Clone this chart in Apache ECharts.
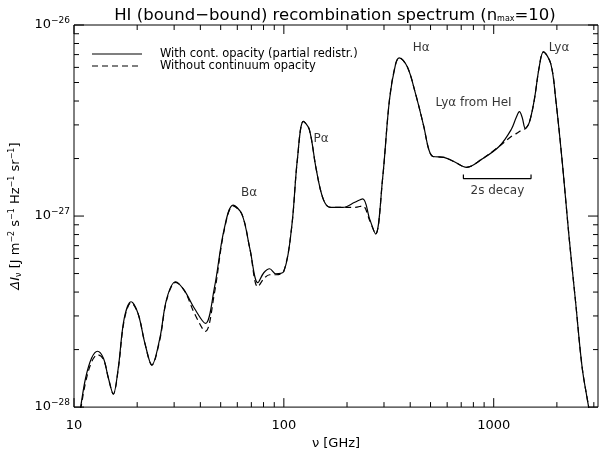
<!DOCTYPE html>
<html><head><meta charset="utf-8">
<script src="https://cdn.jsdelivr.net/npm/echarts@6/dist/echarts.min.js"></script>
<style>html,body{margin:0;padding:0;background:#fff}#c{width:606px;height:455px}</style>
</head><body><div id="c"></div>
<script>
// Frequency (GHz)
const freq = [10.53,10.75,11.36,12.12,12.94,13.81,14.58,15.39,16.25,17.35,18.72,20.19,21.79,23.50,25.64,27.67,30.51,33.65,37.51,42.27,46.59,51.94,57.28,63.17,68.90,75.15,80.23,85.60,91.38,99.7,108.7,116.0,123.9,132.2,142.6,153.9,166.1,191.2,217.8,237.6,256.4,273.7,295.3,318.6,340.1,354.8,387.4,422.7,464.5,490.5,513.8,579.1,645.4,743.3,875.0,1064,1212,1280,1326,1367,1415,1478,1561,1648,1725,1871,1976,2126,2283,2455,2641,2837,2918];
// With continuum opacity (partial redistribution), J m^-2 s^-1 Hz^-1 sr^-1
const withOpacity = [8.8e-29,1.0e-28,1.42e-28,1.80e-28,1.96e-28,1.80e-28,1.42e-28,1.17e-28,1.60e-28,2.91e-28,3.56e-28,3.09e-28,2.15e-28,1.66e-28,2.29e-28,3.70e-28,4.53e-28,4.06e-28,3.28e-28,2.74e-28,4.17e-28,8.55e-28,1.14e-27,1.02e-27,6.73e-28,4.48e-28,5.05e-28,5.30e-28,4.99e-28,5.11e-28,8.55e-28,1.98e-27,3.13e-27,2.84e-27,1.76e-27,1.23e-27,1.11e-27,1.11e-27,1.18e-27,1.23e-27,9.64e-28,8.05e-28,1.56e-27,4.06e-27,6.19e-27,6.73e-27,6.04e-27,4.43e-27,2.94e-27,2.23e-27,2.05e-27,2.03e-27,1.93e-27,1.80e-27,1.98e-27,2.32e-27,2.84e-27,3.28e-27,3.52e-27,3.28e-27,2.87e-27,3.09e-27,4.06e-27,6.04e-27,7.23e-27,6.26e-27,4.06e-27,1.87e-27,7.87e-28,3.56e-28,1.60e-28,9.9e-29,7.8e-29];
// Without continuum opacity
const withoutOpacity = [8.6e-29,0.97e-28,1.35e-28,1.72e-28,1.88e-28,1.78e-28,1.42e-28,1.17e-28,1.58e-28,2.85e-28,3.52e-28,3.09e-28,2.15e-28,1.66e-28,2.25e-28,3.65e-28,4.50e-28,4.06e-28,3.09e-28,2.49e-28,3.90e-28,8.40e-28,1.13e-27,1.02e-27,6.73e-28,4.26e-28,4.70e-28,4.93e-28,4.93e-28,5.11e-28,8.55e-28,1.98e-27,3.13e-27,2.84e-27,1.76e-27,1.23e-27,1.11e-27,1.11e-27,1.11e-27,1.13e-27,9.47e-28,8.05e-28,1.56e-27,4.06e-27,6.19e-27,6.73e-27,6.04e-27,4.43e-27,2.94e-27,2.23e-27,2.05e-27,2.03e-27,1.93e-27,1.80e-27,1.98e-27,2.32e-27,2.61e-27,2.70e-27,2.77e-27,2.84e-27,2.87e-27,3.09e-27,4.06e-27,6.04e-27,7.23e-27,6.26e-27,4.06e-27,1.87e-27,7.87e-28,3.56e-28,1.60e-28,9.9e-29,7.8e-29];

const xRange = [10, 3140];
const yRange = [1e-28, 1e-26];
const xMajorTicks = [10, 100, 1000];
const xMinorTicks = [20,30,40,50,60,70,80,90,200,300,400,500,600,700,800,900,2000,3000];
const yMajorTicks = [1e-28, 1e-27, 1e-26];
const yMinorTicks = [2e-28,3e-28,4e-28,5e-28,6e-28,7e-28,8e-28,9e-28,2e-27,3e-27,4e-27,5e-27,6e-27,7e-27,8e-27,9e-27];
const yTickLabels = {'-28':'10{sup|−28}','-27':'10{sup|−27}','-26':'10{sup|−26}'};
const legendNames = ['With cont. opacity (partial redistr.)', 'Without continuum opacity'];

// annotations [freq GHz, intensity, text]
const annotations = [
  [68.2, 1.33e-27, 'Bα'],
  [150.6, 2.52e-27, 'Pα'],
  [451, 7.59e-27, 'Hα'],
  [802, 3.93e-27, 'Lyα from HeI'],
  [2048, 7.59e-27, 'Lyα'],
  [1041, 1.35e-27, '2s decay']
];
const bracketFreq = [717, 717, 1506, 1506];
const bracketI = [1.65e-27, 1.57e-27, 1.57e-27, 1.65e-27];

// ECharts rounds tiny numbers to 20 decimals, so intensities are handed to it in units of 1e-28
const YS = 1e28;
const sy = v => v * YS;

const FONT = 'DejaVu Sans';
const chart = echarts.init(document.getElementById('c'), null, {renderer:'canvas'});

const tickData = [];
xMajorTicks.forEach(v => tickData.push([v, sy(yRange[0]), 0, 9]));
xMinorTicks.forEach(v => tickData.push([v, sy(yRange[0]), 0, 5]));
yMajorTicks.forEach(v => tickData.push([xRange[0], sy(v), 1, 10]));
yMinorTicks.forEach(v => tickData.push([xRange[0], sy(v), 1, 5]));

chart.setOption({
  animation: false,
  title: {
    text: 'HI (bound−bound) recombination spectrum (n{sub|max}=10)',
    left: 330, top: 2, textAlign: 'center',
    textStyle: {fontFamily: FONT, fontSize: 16.5, fontWeight: 'normal', color: '#000',
      rich: {sub: {fontFamily: FONT, fontSize: 8, padding: [6,0,0,0], color:'#000'}}}
  },
  grid: {left: 68, right: 8, top: 25, bottom: 46, show: true, borderColor: '#000', borderWidth: 1, backgroundColor: 'transparent'},
  graphic: [
    {type: 'line', shape: {x1: 92, y1: 54, x2: 142, y2: 54}, style: {stroke: '#000', lineWidth: 1.2}},
    {type: 'line', shape: {x1: 92, y1: 66, x2: 142, y2: 66}, style: {stroke: '#000', lineWidth: 1.2, lineDash: [6, 4]}},
    {type: 'text', x: 160, y: 54, style: {text: legendNames[0], font: '11.5px "DejaVu Sans"', fill: '#000', verticalAlign: 'middle'}},
    {type: 'text', x: 160, y: 66, style: {text: legendNames[1], font: '11.5px "DejaVu Sans"', fill: '#000', verticalAlign: 'middle'}}
  ],
  xAxis: {
    type: 'log', logBase: 10, min: xRange[0], max: xRange[1],
    axisLine: {show: false}, axisTick: {show: false}, splitLine: {show: false},
    axisLabel: {fontFamily: FONT, fontSize: 13, color: '#000', margin: 12,
      formatter: v => { const l = Math.round(Math.log10(v)); return (Math.abs(Math.log10(v)-l) < 1e-6 && l <= 3) ? String(Math.round(v)) : ''; }},
    name: 'ν [GHz]', nameLocation: 'middle', nameGap: 27,
    nameTextStyle: {fontFamily: FONT, fontSize: 13, color: '#000'}
  },
  yAxis: {
    type: 'log', logBase: 10, min: sy(yRange[0]), max: sy(yRange[1]),
    axisLine: {show: false}, axisTick: {show: false}, splitLine: {show: false},
    axisLabel: {fontFamily: FONT, fontSize: 13, color: '#000', margin: 4,
      formatter: v => { const l = Math.round(Math.log10(v / YS)); return yTickLabels[String(l)] || ''; },
      rich: {sup: {fontFamily: FONT, fontSize: 9, padding: [0,0,9,0], color: '#000'}}},
    name: '{b|ΔI}{s|ν} [J m{p|−2} s{p|−1} Hz{p|−1} sr{p|−1}]', nameLocation: 'middle', nameGap: 50, nameRotate: 90,
    nameTextStyle: {fontFamily: FONT, fontSize: 13, color: '#000',
      rich: {
        b: {fontFamily: FONT, fontSize: 13, fontStyle: 'italic', color: '#000'},
        s: {fontFamily: FONT, fontSize: 8, padding: [6,0,0,0], color: '#000'},
        p: {fontFamily: FONT, fontSize: 8, padding: [0,0,8,0], color: '#000'}
      }}
  },
  series: [
    {
      name: legendNames[0], type: 'line', showSymbol: false, symbol: 'none', smooth: 0.35,
      data: freq.map((f, i) => [f, sy(withOpacity[i])]),
      lineStyle: {color: '#000', width: 1.2, type: 'solid'}, itemStyle: {color: '#000'}, z: 3
    },
    {
      name: legendNames[1], type: 'line', showSymbol: false, symbol: 'none', smooth: 0.35,
      data: freq.map((f, i) => [f, sy(withoutOpacity[i])]),
      lineStyle: {color: '#000', width: 1.2, type: [6, 4]}, itemStyle: {color: '#000'}, z: 2
    },
    {
      type: 'line', showSymbol: false, symbol: 'none', silent: true,
      data: bracketFreq.map((f, i) => [f, sy(bracketI[i])]),
      lineStyle: {color: '#000', width: 1.2}
    },
    {
      type: 'scatter', symbolSize: 0, silent: true,
      data: annotations.map(a => ({value: [a[0], sy(a[1])], label: {formatter: a[2]}})),
      label: {show: true, position: 'inside', fontFamily: FONT, fontSize: 12, color: '#000'}
    },
    {
      type: 'custom', silent: true, clip: false,
      data: tickData,
      renderItem: function (params, api) {
        const kind = api.value(2), len = api.value(3);
        const st = {stroke: '#000', lineWidth: 1};
        if (kind === 0) {
          const b = api.coord([api.value(0), sy(yRange[0])]);
          const t = api.coord([api.value(0), sy(yRange[1])]);
          return {type: 'group', children: [
            {type: 'line', shape: {x1: b[0], y1: b[1], x2: b[0], y2: b[1] - len}, style: st},
            {type: 'line', shape: {x1: t[0], y1: t[1], x2: t[0], y2: t[1] + len}, style: st}
          ]};
        } else {
          const l = api.coord([xRange[0], api.value(1)]);
          const r = api.coord([xRange[1], api.value(1)]);
          return {type: 'group', children: [
            {type: 'line', shape: {x1: l[0], y1: l[1], x2: l[0] + len, y2: l[1]}, style: st},
            {type: 'line', shape: {x1: r[0], y1: r[1], x2: r[0] - len, y2: r[1]}, style: st}
          ]};
        }
      }
    }
  ]
});
</script></body></html>
